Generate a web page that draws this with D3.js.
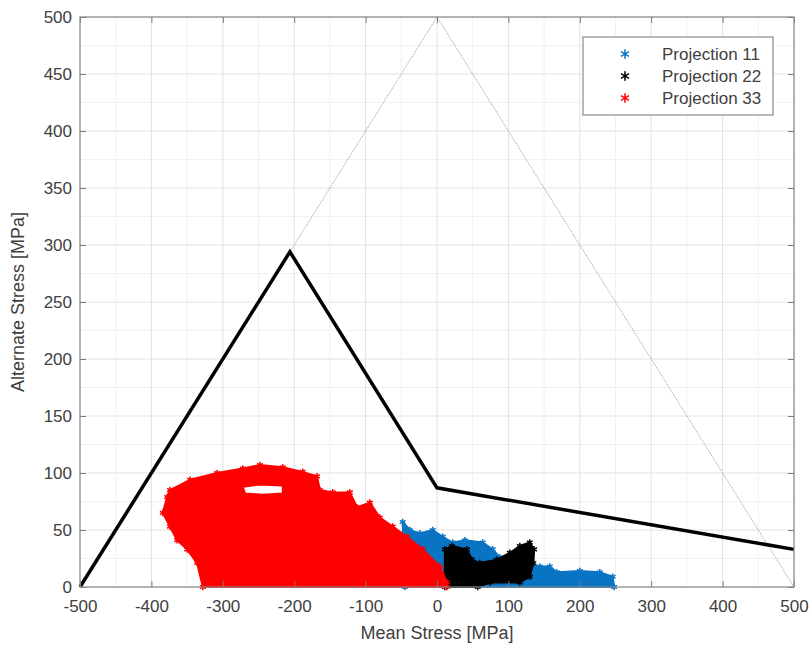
<!DOCTYPE html>
<html>
<head>
<meta charset="utf-8">
<script src="https://cdn.jsdelivr.net/npm/d3@7"></script>
<style>
  body { margin: 0; background: #fff; }
  text { font-family: "Liberation Sans", Arial, sans-serif; fill: #404040; }
</style>
</head>
<body>
<svg id="chart" width="811" height="646"></svg>
<script>
// Haigh diagram data (MPa)

const xTicks = [-500, -400, -300, -200, -100, 0, 100, 200, 300, 400, 500];
const yTicks = [0, 50, 100, 150, 200, 250, 300, 350, 400, 450, 500];
const xMinor = [-450, -350, -250, -150, -50, 50, 150, 250, 350, 450];
const yMinor = [25, 75, 125, 175, 225, 275, 325, 375, 425, 475];

// limit line (thick) and yield triangle (thin dotted)
const limitLine = [[-500, 0], [-206, 294], [0, 87], [500, 33]];
const yieldLine = [[-206, 294], [0, 500], [500, 0]];

// outlines of the point clouds
const proj11 = [[-45, 0], [-48, 57], [-38, 50], [-24, 47], [-6, 50], [8, 44], [22, 39],
  [39, 41], [64, 39], [78, 33], [88, 26], [116, 22], [144, 18], [158, 18], [168, 13],
  [200, 14], [228, 13], [246, 9], [248, 0]];
const proj22 = [[11, 0], [11, 33], [21, 36], [42, 33], [49, 24], [60, 21], [84, 24],
  [102, 30], [116, 36], [130, 39], [136, 33], [135, 21], [130, 9], [116, 4], [74, 4], [57, 0]];
const proj33 = [[-328, 0], [-336, 21], [-350, 33], [-364, 41], [-374, 53], [-384, 65],
  [-378, 79], [-374, 85], [-346, 94], [-308, 100], [-272, 104], [-248, 107], [-216, 105],
  [-188, 101], [-168, 97], [-164, 85], [-146, 83], [-122, 83], [-112, 70], [-94, 74],
  [-80, 61], [-62, 53], [-42, 44], [-20, 33], [4, 18], [14, 4], [14, 0]];
const proj33Hole = [[-272, 88], [-248, 90], [-216, 89], [-216, 82], [-245, 81], [-269, 82]];

const seriesNames = ["Projection 11", "Projection 22", "Projection 33"];
const seriesColors = ["#0a74c4", "#000000", "#ff0000"];

const svg = d3.select("#chart");
const x = d3.scaleLinear().domain([-500, 500]).range([80, 794]);
const y = d3.scaleLinear().domain([0, 500]).range([587, 17]);

// grid
const grid = svg.append("g");
grid.selectAll(".xm").data(xMinor).enter().append("line")
  .attr("x1", d => x(d)).attr("x2", d => x(d)).attr("y1", y(0)).attr("y2", y(500))
  .attr("stroke", "#f1f1f1");
grid.selectAll(".ym").data(yMinor).enter().append("line")
  .attr("y1", d => y(d)).attr("y2", d => y(d)).attr("x1", x(-500)).attr("x2", x(500))
  .attr("stroke", "#f1f1f1");
grid.selectAll(".xg").data(xTicks).enter().append("line")
  .attr("x1", d => x(d)).attr("x2", d => x(d)).attr("y1", y(0)).attr("y2", y(500))
  .attr("stroke", "#e2e2e2");
grid.selectAll(".yg").data(yTicks).enter().append("line")
  .attr("y1", d => y(d)).attr("y2", d => y(d)).attr("x1", x(-500)).attr("x2", x(500))
  .attr("stroke", "#e2e2e2");

// point clouds
const line = d3.line().x(d => x(d[0])).y(d => y(d[1]));
const clouds = [proj11, proj22, proj33];
const star = d3.symbol().type(d3.symbolAsterisk).size(30);

clouds.forEach((pts, i) => {
  let pathD = line(pts) + "Z";
  if (i === 2) pathD += line(proj33Hole) + "Z";
  svg.append("path")
    .attr("d", pathD)
    .attr("fill", seriesColors[i])
    .attr("fill-rule", "evenodd")
    .attr("stroke", seriesColors[i])
    .attr("stroke-width", 2)
    .attr("stroke-linejoin", "round");
  svg.selectAll(".m" + i).data(pts).enter().append("path")
    .attr("d", star)
    .attr("transform", d => `translate(${x(d[0])},${y(d[1])})`)
    .attr("fill", "none")
    .attr("stroke", seriesColors[i])
    .attr("stroke-width", 1.5);
});

// lines
svg.append("path").datum(yieldLine)
  .attr("d", line).attr("fill", "none")
  .attr("stroke", "#9a9a9a").attr("stroke-width", 1).attr("stroke-dasharray", "1,1");
svg.append("path").datum(limitLine)
  .attr("d", line).attr("fill", "none")
  .attr("stroke", "#000").attr("stroke-width", 3.5).attr("stroke-linejoin", "miter");

// axes
const fmt = d => String(d);
svg.append("g").attr("transform", `translate(0,${y(0)})`)
  .call(d3.axisBottom(x).tickValues(xTicks).tickFormat(fmt)
    .tickSizeInner(-6).tickSizeOuter(0).tickPadding(13));
svg.append("g").attr("transform", `translate(${x(-500)},0)`)
  .call(d3.axisLeft(y).tickValues(yTicks).tickFormat(fmt)
    .tickSizeInner(-6).tickSizeOuter(0).tickPadding(8));
svg.append("g").attr("transform", `translate(0,${y(500)})`)
  .call(d3.axisTop(x).tickValues(xTicks).tickSizeInner(-6).tickSizeOuter(0).tickFormat(""));
svg.append("g").attr("transform", `translate(${x(500)},0)`)
  .call(d3.axisRight(y).tickValues(yTicks).tickSizeInner(-6).tickSizeOuter(0).tickFormat(""));
svg.selectAll(".domain").remove();
svg.selectAll(".tick line").attr("stroke", "#7a7a7a");
svg.selectAll(".tick text").style("font-size", "17px").attr("fill", "#404040");

svg.append("rect")
  .attr("x", x(-500)).attr("y", y(500))
  .attr("width", x(500) - x(-500)).attr("height", y(0) - y(500))
  .attr("fill", "none").attr("stroke", "#8a8a8a").attr("stroke-width", 1.2);

// axis labels
svg.append("text")
  .attr("x", x(0)).attr("y", 639)
  .attr("text-anchor", "middle").style("font-size", "18px")
  .text("Mean Stress [MPa]");
svg.append("text")
  .attr("transform", `translate(24,${y(250)}) rotate(-90)`)
  .attr("text-anchor", "middle").style("font-size", "18px")
  .text("Alternate Stress [MPa]");

// legend
const legend = svg.append("g").attr("transform", "translate(583,37)");
legend.append("rect")
  .attr("width", 190).attr("height", 78)
  .attr("fill", "#fff").attr("stroke", "#8a8a8a").attr("stroke-width", 1.2);
seriesNames.forEach((name, i) => {
  const row = legend.append("g").attr("transform", `translate(0,${17 + i * 22})`);
  row.append("path").attr("d", d3.symbol().type(d3.symbolAsterisk).size(60))
    .attr("transform", "translate(42,0)")
    .attr("fill", "none").attr("stroke", seriesColors[i]).attr("stroke-width", 1.5);
  row.append("text").attr("x", 79).attr("y", 6)
    .style("font-size", "17px").attr("fill", "#404040")
    .text(name);
});
</script>
</body>
</html>
